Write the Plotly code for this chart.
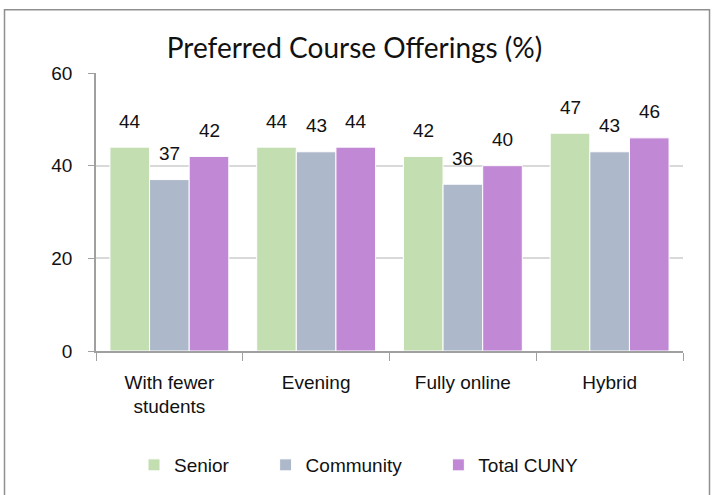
import plotly.graph_objects as go

categories = ["With fewer<br>students", "Evening", "Fully online", "Hybrid"]
senior = [44, 44, 42, 47]
community = [37, 43, 36, 43]
total_cuny = [42, 44, 40, 46]
series_names = ["Senior", "Community", "Total CUNY"]
colors = ["#C3DFB1", "#ADB9CA", "#C088D5"]

W, H = 713, 495
ml, mr, mt, mb = 96, 30, 73, 143
pw, ph = W - ml - mr, H - mt - mb
bargap = 0.19

font_fam = "Liberation Sans, Arial, sans-serif"
label_font = dict(family=font_fam, size=19, color="#111111")

fig = go.Figure()
pad = "&nbsp;" * 6
series_vals = [senior, community, total_cuny]
for name, vals, col in zip(series_names, series_vals, colors):
    fig.add_trace(go.Bar(
        name=name + pad, x=categories, y=vals,
        marker=dict(color=col, line=dict(color="white", width=1)),
    ))

# value labels placed above each bar (offset within group computed from bar width)
n = len(series_vals)
cat_px = pw / len(categories)
bar_px = cat_px * (1 - bargap) / n
for i, vals in enumerate(series_vals):
    xs = (i - (n - 1) / 2) * bar_px
    for c, v in zip(categories, vals):
        fig.add_annotation(x=c, y=v, text=str(v), showarrow=False, xshift=xs,
                           yshift=26, yanchor="middle", font=label_font)

fig.update_layout(
    width=W, height=H,
    margin=dict(l=ml, r=mr, t=mt, b=mb),
    paper_bgcolor="white", plot_bgcolor="white",
    barmode="group", bargap=bargap, bargroupgap=0,
    title=dict(text="Preferred Course Offerings (%)", x=354.5 / W, xref="container",
               xanchor="center", y=1 - 48 / H, yref="container", yanchor="middle",
               font=dict(family="Lato, Noto Sans, sans-serif", size=28, color="#111111")),
    font=label_font,
    showlegend=True,
    legend=dict(orientation="h", x=(134 - ml) / pw, xanchor="left",
                y=(mt + ph - 465) / ph, yanchor="middle",
                font=label_font, itemwidth=30, tracegroupgap=0),
)
fig.update_yaxes(range=[0, 60], tickvals=[0, 20, 40, 60], showgrid=True,
                 gridcolor="#D9D9D9", gridwidth=1.5, showline=True, linecolor="#A0A0A0",
                 linewidth=1.5, ticks="outside", ticklen=6, tickcolor="#A0A0A0",
                 tickfont=label_font, ticklabelstandoff=12, zeroline=False)
fig.update_xaxes(showline=True, linecolor="#A0A0A0", linewidth=1.5,
                 ticks="outside", ticklen=8, tickcolor="#A0A0A0", tickson="boundaries",
                 tickfont=label_font, ticklabelstandoff=13)

# outer chart border (in paper coordinates relative to plot area)
x0 = (4.5 - ml) / pw
x1 = (709.5 - ml) / pw
y1 = (H - 9.5 - mb) / ph
y0 = (-3 - mb) / ph
fig.add_shape(type="rect", xref="paper", yref="paper", x0=x0, x1=x1, y0=y0, y1=y1,
              line=dict(color="#8F8F8F", width=1.5), fillcolor="rgba(0,0,0,0)", layer="below")

fig.write_html("out.html", config={"displayModeBar": False},
               post_script="document.body.style.margin='0';")
